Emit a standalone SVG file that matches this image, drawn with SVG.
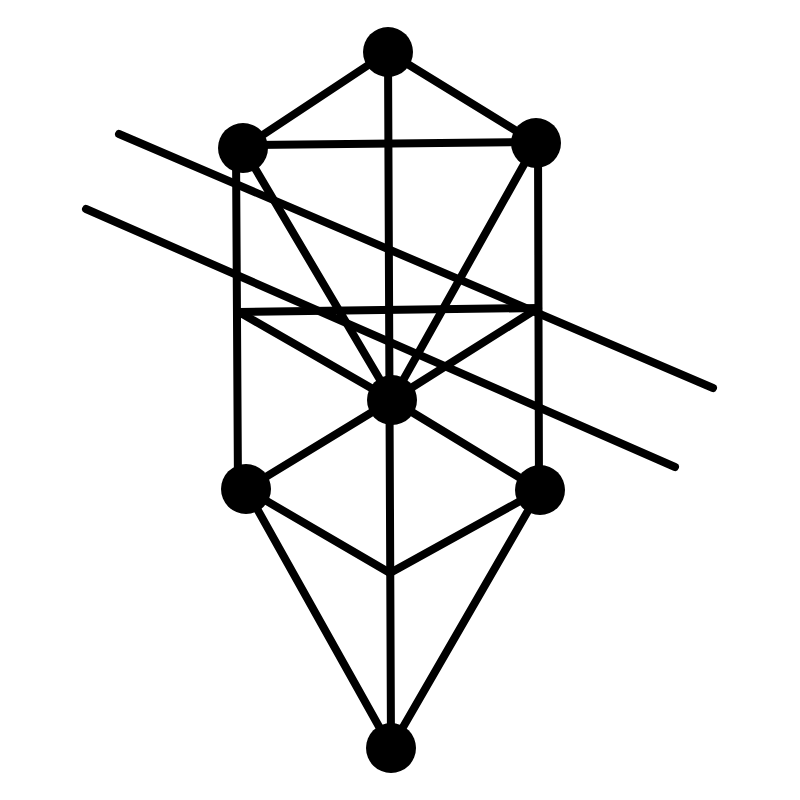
<svg xmlns="http://www.w3.org/2000/svg" width="800" height="800" viewBox="0 0 800 800">
<style>
.e{stroke:#000;stroke-width:8;stroke-linecap:round;fill:none}
.n{fill:#000}
</style>
<rect width="800" height="800" fill="#fff"/>
<g id="connectors">
<line class="e" x1="388" y1="52" x2="243" y2="148"/>
<line class="e" x1="388" y1="52" x2="536" y2="143"/>
<line class="e" x1="243" y1="145" x2="536" y2="142"/>
<line class="e" x1="388" y1="52" x2="391" y2="748"/>
<line class="e" x1="236" y1="150" x2="238" y2="489"/>
<line class="e" x1="538" y1="143" x2="539" y2="490"/>
<line class="e" x1="239" y1="312" x2="538" y2="308"/>
<line class="e" x1="243" y1="148" x2="392" y2="400"/>
<line class="e" x1="536" y1="143" x2="392" y2="400"/>
<line class="e" x1="239" y1="312" x2="392" y2="400"/>
<line class="e" x1="538" y1="308" x2="392" y2="400"/>
<line class="e" x1="392" y1="400" x2="246" y2="489"/>
<line class="e" x1="392" y1="400" x2="540" y2="490"/>
<line class="e" x1="246" y1="489" x2="390" y2="573"/>
<line class="e" x1="540" y1="490" x2="390" y2="573"/>
<line class="e" x1="246" y1="489" x2="391" y2="748"/>
<line class="e" x1="540" y1="490" x2="391" y2="748"/>
<line class="e" x1="119" y1="134" x2="713" y2="388"/>
<line class="e" x1="86" y1="209" x2="675" y2="467"/>
</g>
<g id="n1"><circle class="n" cx="388" cy="52" r="25"/></g>
<g id="n2"><circle class="n" cx="243" cy="148" r="25"/></g>
<g id="n3"><circle class="n" cx="536" cy="143" r="25"/></g>
<g id="n4"><circle class="n" cx="392" cy="400" r="25"/></g>
<g id="n5"><circle class="n" cx="246" cy="489" r="25"/></g>
<g id="n6"><circle class="n" cx="540" cy="490" r="25"/></g>
<g id="n7"><circle class="n" cx="391" cy="748" r="25"/></g>
</svg>
